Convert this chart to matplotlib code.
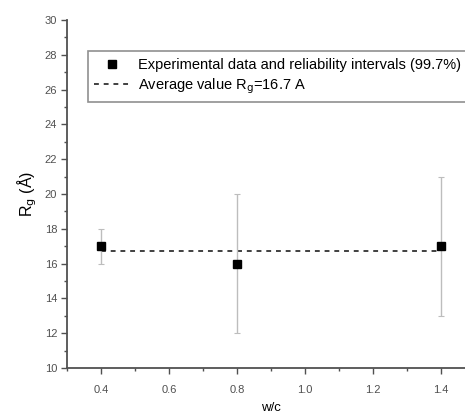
import numpy as np
import matplotlib.pyplot as plt
from matplotlib.ticker import MultipleLocator

plt.rcParams['font.family'] = ['Liberation Sans', 'DejaVu Sans']

# dati
wc = [0.4, 0.8, 1.4]
rg = [17.0, 16.0, 17.0]
err = [1.0, 4.0, 4.0]
rg_mean = 16.7

fig = plt.figure(figsize=(4.65, 4.15), dpi=100)
ax = fig.add_axes([0.144, 0.113, 0.877, 0.839])

ax.errorbar(wc, rg, yerr=err, fmt='none', ecolor='#bdbdbd', elinewidth=1.0,
            capsize=2, capthick=0.8, zorder=2)
pts, = ax.plot(wc, rg, 's', color='black', markersize=6, zorder=3,
               label='Experimental data and reliability intervals (99.7%)')
avg, = ax.plot([wc[0], wc[-1]], [rg_mean, rg_mean], '--', color='#404040',
               lw=1.4, dashes=(2.5, 2.5), zorder=1,
               label=r'Average value R$_\mathrm{g}$=16.7 A')

ax.set_xlim(0.3, 1.5)
ax.set_ylim(10, 30)
ax.xaxis.set_major_locator(MultipleLocator(0.2))
ax.xaxis.set_minor_locator(MultipleLocator(0.1))
ax.yaxis.set_major_locator(MultipleLocator(2))
ax.yaxis.set_minor_locator(MultipleLocator(1))
ax.set_xticks([0.4, 0.6, 0.8, 1.0, 1.2, 1.4])
ax.set_xticklabels(['0.4', '0.6', '0.8', '1.0', '1.2', '1.4'])
ax.spines['top'].set_visible(False)
ax.spines['right'].set_visible(False)
for s in ('left', 'bottom'):
    ax.spines[s].set_linewidth(1.3)
    ax.spines[s].set_color('#505050')
ax.tick_params(which='major', length=4, width=1, color='#505050',
               labelsize=8, labelcolor='#505050', pad=3)
ax.tick_params(axis='x', which='major', pad=8)
ax.tick_params(which='minor', length=2, width=1, color='#505050')

ax.set_xlabel('w/c', fontsize=9.5, labelpad=5)
ax.set_ylabel(r'R$_\mathrm{g}$ (Å)', fontsize=11.5, labelpad=4)

leg = fig.legend(handles=[pts, avg], loc='upper left',
                 bbox_to_anchor=(0.189, 0.877), fontsize=10.5,
                 fancybox=False, framealpha=1, edgecolor='#909090',
                 borderpad=0.45, handlelength=2.4, handletextpad=0.6,
                 labelspacing=0.3, borderaxespad=0)
leg.get_frame().set_linewidth(1.2)

fig.savefig('out.png', dpi=100)
